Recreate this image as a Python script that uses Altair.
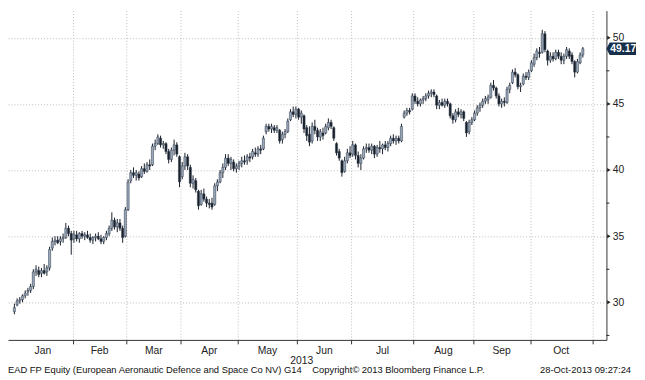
import altair as alt
import pandas as pd

# Daily OHLC, EAD FP, trading days 2 Jan 2013 .. 28 Oct 2013
opens = [29.3,29.8,30.1,30.2,30.5,30.8,30.9,31.2,32.3,32.4, 32.2,32.4,32.3,32.6,34.1,34.6,34.7,34.6,34.8,34.9,
         35.6,35.2,34.8,35.1,34.8,35.2,35.0,35.1,34.9,34.7, 34.9,35.0,34.8,34.6,34.9,35.2,35.6,36.2,35.7,36.0,
         35.6,35.0,37.0,39.2,39.8,39.6,39.7,39.5,40.1,39.9, 40.4,40.4,41.8,42.0,42.4,41.9,42.0,41.4,40.8,41.5,
         41.9,41.0,39.5,40.3,41.0,40.2,39.0,39.2,38.4,37.4, 38.2,37.8,37.5,37.5,37.4,38.8,39.1,39.8,40.2,40.9,
         40.5,40.6,40.1,40.3,40.5,40.7,40.7,41.0,41.0,41.3, 41.2,41.6,41.6,42.9,43.3,43.1,43.2,43.0,43.0,42.3,
         42.7,42.9,43.8,44.4,44.2,44.6,44.0,44.1,43.2,42.7, 42.2,43.3,43.0,42.5,42.8,42.8,43.2,43.6,43.2,42.0,
         41.4,40.7,39.9,40.7,41.3,41.2,41.9,41.1,40.5,40.9, 41.6,41.7,41.5,41.8,41.2,41.7,41.6,41.9,41.7,42.0,
         42.4,42.2,42.4,42.2,44.0,44.3,44.5,44.6,45.6,45.2, 45.0,45.3,45.4,45.6,45.8,45.9,45.6,44.9,45.1,44.9,
         45.2,45.0,44.1,43.8,44.4,44.2,44.4,43.6,42.9,43.6, 43.8,44.3,44.7,44.9,45.2,45.3,45.5,46.4,46.2,45.6,
         45.0,45.2,45.1,46.1,46.6,47.4,47.2,46.3,46.5,47.1, 47.0,47.5,48.0,48.5,48.9,48.9,50.3,49.0,48.3,48.6,
         48.4,48.9,48.6,48.3,48.6,49.0,48.7,48.2,47.4,48.1, 48.7]
highs = [29.9,30.3,30.4,30.6,30.9,31.1,31.4,32.5,32.8,32.7, 32.6,32.9,32.8,34.2,34.9,35.0,35.0,35.0,35.2,36.0,
         35.8,35.4,35.4,35.4,35.3,35.4,35.3,35.4,35.2,35.0, 35.2,35.3,35.1,35.0,35.4,35.8,36.8,36.4,36.3,36.3,
         35.8,37.2,39.3,40.0,40.2,40.0,39.9,40.3,40.5,40.6, 40.8,42.0,42.3,42.7,42.6,42.2,42.1,41.6,41.7,42.3,
         42.1,41.1,40.6,41.3,41.2,40.4,39.6,39.4,38.5,38.5, 38.6,38.0,37.8,37.9,39.0,39.3,40.0,40.5,41.2,41.2,
         41.0,40.8,40.5,40.7,41.0,41.1,41.2,41.3,41.6,41.7, 41.8,41.9,42.6,43.5,43.5,43.5,43.4,43.4,43.1,42.9,
         43.1,43.9,44.6,44.8,44.8,44.7,44.5,44.2,43.4,43.3, 43.6,43.8,43.2,43.1,43.2,43.5,43.9,43.8,43.3,42.1,
         41.6,40.8,41.0,41.6,41.8,42.2,42.0,41.4,41.2,41.8, 42.0,42.0,42.0,41.9,41.9,42.2,42.0,42.2,42.2,42.6,
         42.7,42.6,42.6,43.5,44.5,44.7,44.7,45.8,45.8,45.5, 45.4,45.6,45.8,46.0,46.1,46.1,45.7,45.3,45.4,45.4,
         45.4,45.1,44.3,44.6,44.7,44.6,44.5,43.7,43.8,44.0, 44.5,44.9,45.1,45.4,45.6,45.7,46.6,46.8,46.3,45.8,
         45.4,45.5,46.3,46.6,47.6,47.7,47.3,46.6,47.3,47.4, 47.6,48.3,48.8,49.2,49.3,50.6,50.5,49.1,48.9,48.9,
         49.1,49.1,48.9,48.8,49.3,49.2,48.9,48.3,48.4,48.9, 49.3]
lows = [29.1,29.7,29.9,30.0,30.3,30.5,30.7,31.0,32.0,31.9, 31.9,32.1,32.0,32.4,33.9,34.3,34.4,34.3,34.5,34.8,
        35.0,33.6,34.5,34.6,34.5,34.8,34.7,34.8,34.5,34.4, 34.6,34.7,34.4,34.4,34.7,35.0,35.4,35.5,35.3,35.4,
        34.5,34.9,36.9,39.0,39.4,39.2,39.2,39.4,39.7,39.8, 40.0,40.3,41.5,41.9,41.7,41.6,41.2,40.5,40.6,41.1,
        41.0,38.7,39.3,40.0,40.0,38.7,38.6,38.3,37.0,37.3, 37.6,37.2,37.1,37.0,37.3,38.4,39.0,39.4,40.0,40.3,
        40.0,39.9,39.8,40.0,40.2,40.4,40.4,40.6,40.8,41.0, 41.0,41.2,41.5,42.7,42.9,42.8,42.8,42.8,42.0,42.0,
        42.4,42.8,43.7,44.0,43.9,43.8,43.5,42.8,42.2,41.8, 42.0,42.7,42.2,42.2,42.3,42.7,43.0,43.1,42.2,41.1,
        40.7,39.5,39.8,40.5,40.9,41.0,40.8,40.2,40.0,40.8, 41.3,41.3,41.2,40.9,41.0,41.3,41.2,41.5,41.4,41.8,
        42.0,41.9,42.0,42.1,43.9,44.1,44.2,44.5,45.0,44.8, 44.8,45.0,45.2,45.4,45.5,45.5,44.6,44.6,44.8,44.7,
        44.8,43.9,43.5,43.6,44.0,43.9,43.7,42.5,42.7,43.4, 43.7,44.1,44.4,44.7,45.0,45.0,45.4,46.0,45.4,44.8,
        44.7,44.8,45.0,45.8,46.5,47.0,46.1,45.9,46.4,46.8, 46.8,47.4,47.8,48.3,48.5,48.8,48.9,47.9,48.1,48.2,
        48.3,48.4,48.0,48.0,48.4,48.4,48.0,47.0,47.3,48.0, 48.5]
closes = [29.6,30.1,30.2,30.5,30.7,30.9,31.2,32.3,32.5,32.1, 32.4,32.2,32.6,34.0,34.6,34.7,34.5,34.8,34.9,35.6,
          35.2,34.7,35.1,34.8,35.2,35.0,35.1,34.9,34.7,34.9, 35.0,34.8,34.6,34.9,35.2,35.6,36.2,35.7,36.0,35.6,
          34.9,37.0,39.1,39.8,39.6,39.8,39.4,40.1,39.9,40.4, 40.3,41.8,42.0,42.5,41.9,42.0,41.4,40.8,41.5,41.9,
          41.2,39.1,40.3,41.0,40.3,39.0,39.3,38.5,37.3,38.2, 37.8,37.5,37.4,37.2,38.8,39.1,39.8,40.2,40.9,40.5,
          40.8,40.1,40.3,40.5,40.7,40.6,41.0,40.9,41.4,41.2, 41.6,41.5,42.4,43.3,43.1,43.3,43.0,43.2,42.2,42.7,
          42.9,43.7,44.4,44.2,44.6,44.0,44.3,43.1,42.6,42.1, 43.3,43.0,42.5,42.9,42.6,43.3,43.6,43.3,42.4,41.3,
          40.9,39.8,40.7,41.3,41.1,41.9,41.1,40.5,40.9,41.6, 41.7,41.5,41.8,41.2,41.7,41.6,41.9,41.7,42.0,42.4,
          42.2,42.4,42.2,43.3,44.3,44.5,44.4,45.6,45.2,45.0, 45.3,45.4,45.6,45.8,45.9,45.7,44.9,45.1,44.9,45.2,
          45.0,44.1,43.8,44.4,44.2,44.4,43.9,42.8,43.6,43.8, 44.3,44.7,44.9,45.2,45.4,45.5,46.4,46.2,45.6,45.0,
          45.2,45.1,46.1,46.4,47.4,47.2,46.3,46.4,47.1,47.0, 47.4,48.1,48.5,49.0,48.8,50.3,49.1,48.3,48.6,48.4,
          48.9,48.6,48.3,48.6,49.1,48.6,48.2,47.4,48.2,48.7, 49.17]

month_names = ["Jan", "Feb", "Mar", "Apr", "May", "Jun", "Jul", "Aug", "Sep", "Oct"]
month_starts = [0, 22, 42, 62, 83, 105, 125, 148, 170, 191, 214]  # trading-day index of 1st day
price_ticks = [30, 35, 40, 45, 50]
minor_ticks = [27.5, 32.5, 37.5, 42.5, 47.5]
last_price = closes[-1]
year_label = "2013"
footer_left = "EAD FP Equity (European Aeronautic Defence and Space Co NV) G14"
footer_mid = "Copyright\u00a9 2013 Bloomberg Finance L.P."
footer_right = "28-Oct-2013 09:27:24"

df = pd.DataFrame({"i": list(range(len(closes))), "open": opens, "high": highs,
                   "low": lows, "close": closes})
months = pd.DataFrame({
    "name": month_names,
    "mid": [(month_starts[k] + month_starts[k + 1]) / 2 - 0.5 for k in range(len(month_names))],
})
bounds = [s - 0.5 for s in month_starts[1:]]

FONT = "Liberation Sans"
DARK = "#18202b"
UP = "#98a7ba"
W, H = 607, 334
xs = alt.Scale(domain=[-0.54, 216.9], nice=False, zero=False)
ys = alt.Scale(domain=[27.16, 52.05], nice=False, zero=False)

base = alt.Chart(df)

wicks = base.mark_rule(color=DARK, strokeWidth=1).encode(
    x=alt.X("i:Q", scale=xs, title=None,
            axis=alt.Axis(values=bounds, labels=False, ticks=True, tickSize=4, tickColor="#333",
                          domainColor="#333", grid=True, gridColor="#bcbcbc", gridDash=[1, 2],
                          title=None)),
    y=alt.Y("low:Q", scale=ys, title=None,
            axis=alt.Axis(orient="right", values=price_ticks, ticks=False, labelPadding=6,
                          labelFont=FONT, labelFontSize=10.5, labelColor="#222",
                          domainColor="#333", grid=True, gridColor="#bcbcbc", gridDash=[1, 2],
                          title=None)),
    y2="high:Q",
)

bodies = base.mark_bar(size=2.2, stroke="#2e3a4a", strokeWidth=0.5).encode(
    x=alt.X("i:Q", scale=xs, title=None),
    y=alt.Y("open:Q", scale=ys, title=None),
    y2="close:Q",
    color=alt.condition("datum.close >= datum.open", alt.value(UP), alt.value(DARK)),
)

tri = alt.Chart(pd.DataFrame({"p": price_ticks})).mark_point(
    shape="triangle-right", filled=True, size=16, color="#222", opacity=1
).encode(x=alt.value(609.5), y=alt.Y("p:Q", scale=ys, title=None))

minor = alt.Chart(pd.DataFrame({"p": minor_ticks})).mark_rule(color="#222", strokeWidth=1).encode(
    x=alt.value(607), x2=alt.value(610), y=alt.Y("p:Q", scale=ys, title=None))

mlabels = alt.Chart(months).mark_text(font=FONT, fontSize=10.5, color="#222", baseline="middle").encode(
    x=alt.X("mid:Q", scale=xs, title=None), y=alt.value(345), text="name:N")

year = alt.Chart(pd.DataFrame({"t": [year_label]})).mark_text(
    font=FONT, fontSize=10.5, color="#222", baseline="middle").encode(
    x=alt.value(298), y=alt.value(355), text="t:N")

fl = alt.Chart(pd.DataFrame({"t": [footer_left]})).mark_text(
    font=FONT, fontSize=9.5, color="#111", align="left", baseline="middle").encode(
    x=alt.value(0), y=alt.value(365), text="t:N")
fm = alt.Chart(pd.DataFrame({"t": [footer_mid]})).mark_text(
    font=FONT, fontSize=9.5, color="#111", align="center", baseline="middle").encode(
    x=alt.value(396), y=alt.value(365), text="t:N")
fr = alt.Chart(pd.DataFrame({"t": [footer_right]})).mark_text(
    font=FONT, fontSize=9.5, color="#111", align="right", baseline="middle").encode(
    x=alt.value(632), y=alt.value(365), text="t:N")

tag_shape = "M -1 0 L -0.78 -0.42 L 1 -0.42 L 1 0.42 L -0.78 0.42 Z"
lastdf = pd.DataFrame({"p": [last_price]})
tag = alt.Chart(lastdf).mark_point(shape=tag_shape, filled=True, size=900, color="#16304c", opacity=1).encode(
    x=alt.value(622), y=alt.Y("p:Q", scale=ys, title=None))
tagtext = alt.Chart(lastdf).mark_text(font=FONT, fontSize=10.5, fontWeight="bold", color="white",
                                      baseline="middle").encode(
    x=alt.value(624), y=alt.Y("p:Q", scale=ys, title=None), text=alt.Text("p:Q", format=".2f"))

chart = alt.layer(wicks, bodies, tri, minor, mlabels, year, fl, fm, fr, tag, tagtext).properties(
    width=W, height=H, padding=0, background="white"
).configure_view(strokeWidth=0)

chart.save("out.html", embed_options={"renderer": "svg", "actions": False})
